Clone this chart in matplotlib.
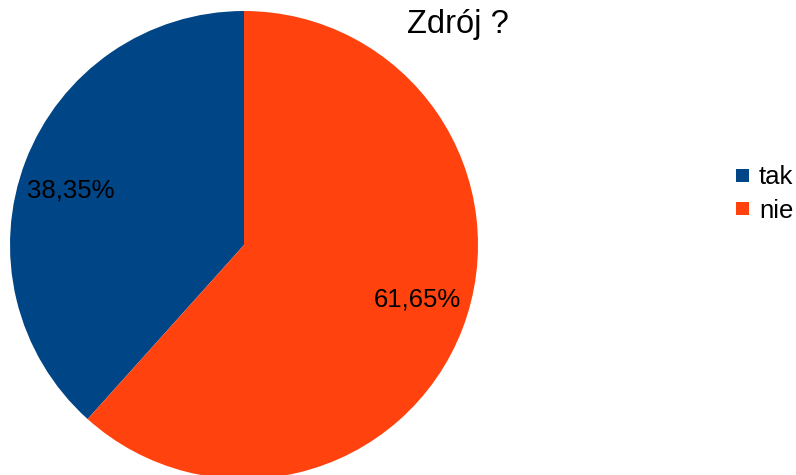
import matplotlib
matplotlib.use("Agg")
import numpy as np
import matplotlib.pyplot as plt
from matplotlib.patches import Rectangle

categories = ["tak", "nie"]
values = [38.35, 61.65]
colors = ["#004586", "#ff420e"]
title_text = "Zdrój ?"

plt.rcParams['font.family'] = ['Liberation Sans', 'DejaVu Sans']

W, H = 796, 475
fig = plt.figure(figsize=(W / 100, H / 100), dpi=100)

cx, cy, r = 244, 245, 234
ax = fig.add_axes([(cx - r) / W, (H - cy - r) / H, 2 * r / W, 2 * r / H])
wedges, texts, autotexts = ax.pie(
    values, colors=colors, startangle=90, counterclock=True,
    autopct=lambda p: f"{p:.2f}%".replace(".", ","), pctdistance=0.775,
    radius=1, wedgeprops=dict(linewidth=0),
    textprops=dict(fontsize=18.5, color="black"))
# shift labels slightly along the circle (LibreOffice-like placement)
for w, t in zip(wedges, autotexts):
    ang = np.deg2rad((w.theta1 + w.theta2) / 2 + 3.5)
    t.set_position((0.775 * np.cos(ang), 0.775 * np.sin(ang)))
ax.set_xlim(-1, 1)
ax.set_ylim(-1, 1)
ax.set_aspect("equal")
ax.axis("off")

fig.text(458 / W, 1 - 24 / H, title_text, ha="center", va="center", fontsize=23.5)

# legend
for i, (lab, c) in enumerate(zip(categories, colors)):
    yc = 175 + 33 * i
    fig.patches.append(Rectangle((736 / W, 1 - (yc + 6.5) / H), 13 / W, 13 / H,
                                 transform=fig.transFigure, facecolor=c,
                                 edgecolor="none"))
    fig.text(759 / W, 1 - yc / H, lab, ha="left", va="center_baseline",
             fontsize=18.5)

fig.savefig("out.png", dpi=100)
